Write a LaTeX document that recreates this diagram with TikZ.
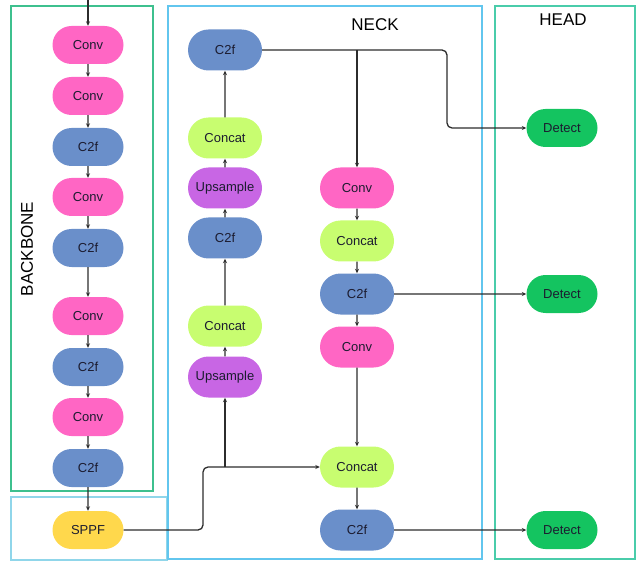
\documentclass[tikz,border=0pt]{standalone}
\usepackage{fontspec}
\setmainfont{Liberation Sans}
\usetikzlibrary{shapes.misc,arrows.meta}

\definecolor{convc}{HTML}{FF66C4}
\definecolor{cfc}{HTML}{6A8FCA}
\definecolor{catc}{HTML}{C8FD70}
\definecolor{upc}{HTML}{C866E4}
\definecolor{sppfc}{HTML}{FFD84C}
\definecolor{detc}{HTML}{14C460}
\definecolor{txt}{HTML}{1C1C30}
\definecolor{lnk}{HTML}{2C2C2C}
\definecolor{bbframe}{HTML}{3EC08E}
\definecolor{neckframe}{HTML}{62C6EE}
\definecolor{sppfframe}{HTML}{90D6EA}
\definecolor{headframe}{HTML}{4ACCAA}

\tikzset{
  blk/.style={rounded rectangle, draw=none, minimum width=71pt, minimum height=38pt,
              inner sep=0pt, text=txt, font=\fontsize{13}{15}\selectfont},
  nk/.style={blk, minimum width=74pt, minimum height=41pt},
  conv/.style={fill=convc},
  cf/.style={fill=cfc},
  cat/.style={fill=catc},
  ups/.style={fill=upc},
  sppf/.style={fill=sppfc},
  det/.style={fill=detc},
  link/.style={draw=lnk, line width=1.3pt, -{Stealth[length=4.5pt,width=4pt]}},
  frame/.style={line width=1.3pt},
  title/.style={font=\fontsize{17}{19}\selectfont, text=black}
}

\begin{document}
\begin{tikzpicture}[x=1pt,y=-1pt]
\useasboundingbox (0,0) rectangle (642,561);

% section frames
\draw[frame, bbframe] (11,6) rectangle (153,491);
\draw[frame, sppfframe] (11,497) rectangle (167,560);
\draw[frame, neckframe] (168,6) rectangle (482,559);
\draw[frame, headframe] (495,6) rectangle (635,559);

% section titles
\node[title] (tneck) at (375,25) {NECK};
\node[title] (thead) at (563,20) {HEAD};
\node[title, rotate=90] (tbb) at (27,249) {BACKBONE};

% backbone
\coordinate (inp) at (88,0);
\node[blk,conv] (b1) at (88,45)  {Conv};
\node[blk,conv] (b2) at (88,96)  {Conv};
\node[blk,cf]   (b3) at (88,147) {C2f};
\node[blk,conv] (b4) at (88,197) {Conv};
\node[blk,cf]   (b5) at (88,248) {C2f};
\node[blk,conv] (b6) at (88,316) {Conv};
\node[blk,cf]   (b7) at (88,367) {C2f};
\node[blk,conv] (b8) at (88,417) {Conv};
\node[blk,cf]   (b9) at (88,468) {C2f};
\node[blk,sppf] (sp) at (88,530) {SPPF};

\draw[link] (inp) -- (b1);
\draw[link] (b1) -- (b2);
\draw[link] (b2) -- (b3);
\draw[link] (b3) -- (b4);
\draw[link] (b4) -- (b5);
\draw[link] (b5) -- (b6);
\draw[link] (b6) -- (b7);
\draw[link] (b7) -- (b8);
\draw[link] (b8) -- (b9);
\draw[link] (b9) -- (sp);

% neck, upward path
\node[nk,cf]   (l1) at (225,50)  {C2f};
\node[nk,cat]  (l2) at (225,138) {Concat};
\node[nk,ups]  (l3) at (225,188) {Upsample};
\node[nk,cf]   (l4) at (225,238) {C2f};
\node[nk,cat]  (l5) at (225,326) {Concat};
\node[nk,ups]  (l6) at (225,377) {Upsample};

\draw[link] (l6) -- (l5);
\draw[link] (l5) -- (l4);
\draw[link] (l4) -- (l3);
\draw[link] (l3) -- (l2);
\draw[link] (l2) -- (l1);

% neck, downward path
\node[nk,conv] (r1) at (357,188) {Conv};
\node[nk,cat]  (r2) at (357,241) {Concat};
\node[nk,cf]   (r3) at (357,294) {C2f};
\node[nk,conv] (r4) at (357,347) {Conv};
\node[nk,cat]  (r5) at (357,467) {Concat};
\node[nk,cf]   (r6) at (357,530) {C2f};

\draw[link] (r1) -- (r2);
\draw[link] (r2) -- (r3);
\draw[link] (r3) -- (r4);
\draw[link] (r4) -- (r5);
\draw[link] (r5) -- (r6);

% head
\node[blk,det] (d1) at (562,128) {Detect};
\node[blk,det] (d2) at (562,294) {Detect};
\node[blk,det] (d3) at (562,530) {Detect};

% SPPF feeds the neck
\coordinate (j1) at (225,467);
\draw[link, rounded corners=5pt] (sp.east) -- (203,530) -- (203,467) -- (r5.west);
\draw[link] (j1) -- (l6.south);

% top C2f feeds the first detector and the downward path
\coordinate (j2) at (357,50);
\draw[link, rounded corners=5pt] (l1.east) -- (447,50) -- (447,128) -- (d1.west);
\draw[link] (j2) -- (r1.north);

% remaining detector inputs
\draw[link] (r3) -- (d2);
\draw[link] (r6) -- (d3);
\end{tikzpicture}
\end{document}
